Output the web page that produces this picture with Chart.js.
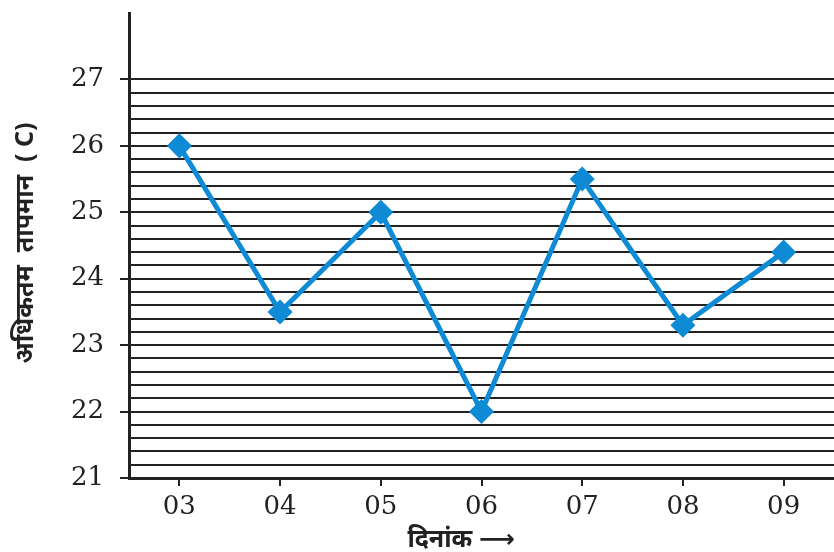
<!DOCTYPE html>
<html>
<head>
<meta charset="utf-8">
<script src="https://cdn.jsdelivr.net/npm/chart.js@4"></script>
<style>
  html, body { margin: 0; padding: 0; background: #fff; }
  #wrap { width: 834px; height: 552px; position: relative; }
</style>
</head>
<body>
<div id="wrap"><canvas id="myChart"></canvas></div>
<script>
const dates = ['03', '04', '05', '06', '07', '08', '09'];
const maxTemps = [26, 23.5, 25, 22, 25.5, 23.3, 24.4];
const yTitle = 'अधिकतम  तापमान  ( C)';
const xTitle = 'दिनांक ⟶';

const ink = '#222';
const isWhole = v => Math.abs(v - Math.round(v)) < 1e-6;

// axis titles placed by hand
const titles = {
  id: 'titles',
  afterDraw(chart) {
    const c = chart.ctx;
    c.save();
    c.fillStyle = ink;
    c.font = 'bold 25px "Noto Sans", "DejaVu Sans", sans-serif';
    c.textAlign = 'center';
    c.textBaseline = 'middle';
    c.fillText(xTitle, 461, 540);
    c.translate(26, 243);
    c.rotate(-Math.PI / 2);
    c.fillText(yTitle, 0, 0);
    c.restore();
  }
};

const ctx = document.getElementById('myChart').getContext('2d');
const chart = new Chart(ctx, {
  type: 'line',
  data: {
    labels: dates,
    datasets: [{
      data: maxTemps,
      borderColor: '#0f8ad4',
      backgroundColor: '#0f8ad4',
      borderWidth: 5,
      pointStyle: 'rectRot',
      pointRadius: 9,
      pointHoverRadius: 9,
      tension: 0
    }]
  },
  options: {
    responsive: true,
    maintainAspectRatio: false,
    animation: false,
    layout: { autoPadding: false, padding: { top: 13, right: 0, left: 0, bottom: 0 } },
    plugins: { legend: { display: false }, tooltip: { enabled: false } },
    scales: {
      x: {
        offset: true,
        grid: { offset: false, drawOnChartArea: false, drawTicks: true, tickLength: 8, color: ink, lineWidth: 2 },
        border: { display: true, color: ink, width: 3 },
        ticks: { color: ink, font: { family: '"DejaVu Serif", serif', size: 26 }, padding: 6, maxRotation: 0 },
        afterFit: s => { s.height = 74; s.paddingLeft = 0; s.paddingRight = 0; }
      },
      y: {
        min: 21,
        max: 28,
        ticks: {
          stepSize: 0.2,
          autoSkip: false,
          color: ink,
          padding: 16,
          font: { family: '"DejaVu Serif", serif', size: 26 },
          callback: v => (isWhole(v) && v <= 27 ? String(Math.round(v)) : '')
        },
        grid: {
          color: c => (c.tick && c.tick.value <= 27.001 ? ink : 'rgba(0,0,0,0)'),
          tickColor: c => (c.tick && isWhole(c.tick.value) && c.tick.value <= 27 ? ink : 'rgba(0,0,0,0)'),
          lineWidth: 2,
          tickLength: 9
        },
        border: { display: true, color: ink, width: 3 },
        afterFit: s => { s.width = 129; s.paddingTop = 0; s.paddingBottom = 0; }
      }
    }
  },
  plugins: [titles]
});
</script>
</body>
</html>
